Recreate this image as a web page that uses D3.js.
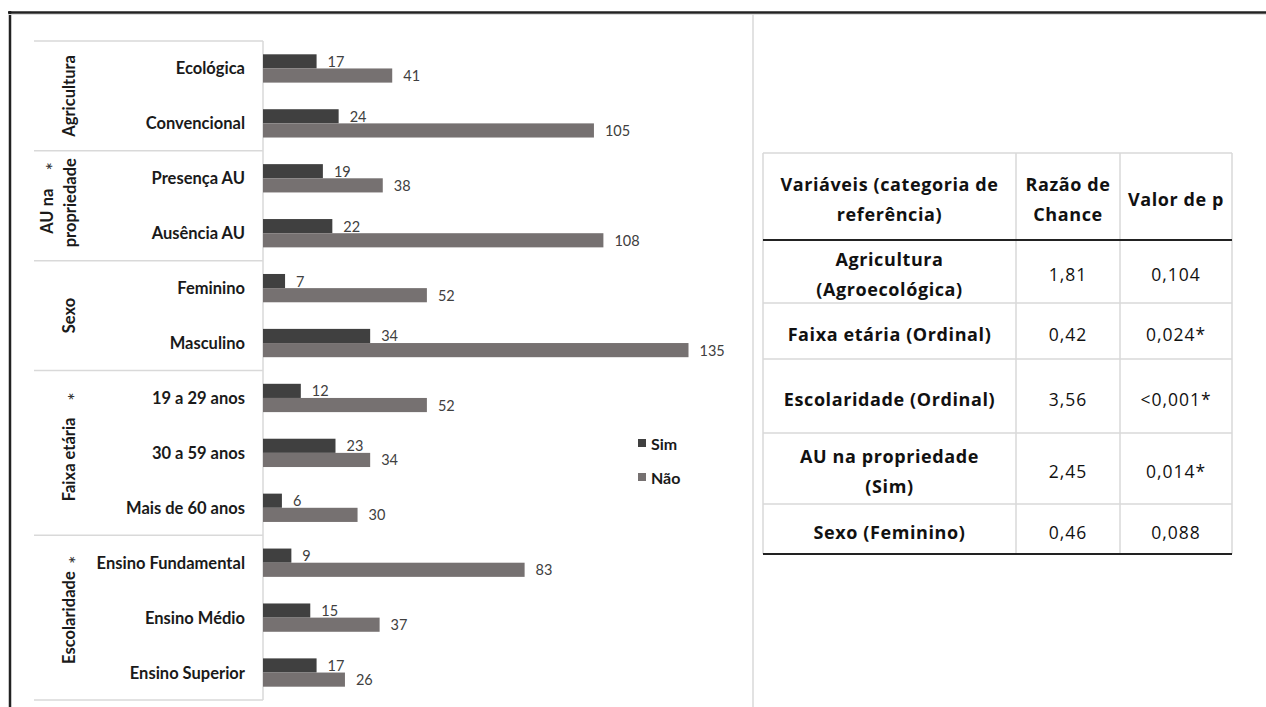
<!DOCTYPE html>
<html><head><meta charset="utf-8">
<script src="https://cdn.jsdelivr.net/npm/d3@7"></script>
<style>
html,body{margin:0;padding:0;background:#fff;}
svg{display:block;}
text{font-family:Lato,"Open Sans",sans-serif;}
</style></head>
<body>
<svg id="chart" width="1266" height="707"></svg>
<script>
// ---- data ----
const categories = ["Ecológica","Convencional","Presença AU","Ausência AU","Feminino","Masculino",
  "19 a 29 anos","30 a 59 anos","Mais de 60 anos","Ensino Fundamental","Ensino Médio","Ensino Superior"];
const simValues = [17,24,19,22,7,34,12,23,6,9,15,17];
const naoValues = [41,105,38,108,52,135,52,34,30,83,37,26];
const seriesNames = ["Sim","Não"];
const groupLines = [["Agricultura"],["AU na","propriedade"],["Sexo"],["Faixa etária"],["Escolaridade"]];
const groupSignificant = [false,true,false,true,true];
const groupSizes = [2,2,2,3,3];

const tableHeader = [["Variáveis (categoria de","referência)"],["Razão de","Chance"],["Valor de p"]];
const tableVars = [["Agricultura","(Agroecológica)"],["Faixa etária (Ordinal)"],["Escolaridade (Ordinal)"],["AU na propriedade","(Sim)"],["Sexo (Feminino)"]];
const tableOR = ["1,81","0,42","3,56","2,45","0,46"];
const tableP = ["0,104","0,024*","<0,001*","0,014*","0,088"];

// ---- layout constants (screen offsets, not data) ----
const groupLayout = [
  {lines:[[0,0]]},
  {lines:[[-22,5.5],[1,-3]], star:[-17,-39.5]},
  {lines:[[0,0]]},
  {lines:[[0,6.5]], star:[5,-56.5]},
  {lines:[[0,0]], star:[6,-58]}
];

const svg = d3.select("#chart");
const colors = {Sim:"#404040", "Não":"#767171"};
const grid = "#d9d9d9";

// page frame
svg.append("line").attr("x1",8).attr("x2",1266).attr("y1",12.5).attr("y2",12.5).attr("stroke","#222").attr("stroke-width",2.5);
svg.append("line").attr("x1",10).attr("x2",10).attr("y1",11).attr("y2",707).attr("stroke","#222").attr("stroke-width",2.5);
svg.append("line").attr("x1",8).attr("x2",1266).attr("y1",14.5).attr("y2",14.5).attr("stroke","#ddd").attr("stroke-width",1);
svg.append("line").attr("x1",753).attr("x2",753).attr("y1",14).attr("y2",707).attr("stroke",grid).attr("stroke-width",1.5);

const x = d3.scaleLinear().domain([0,135]).range([263,688.5]);
const y = d3.scaleBand().domain(categories).range([41,700]).padding(0);
const ySub = d3.scaleBand().domain(seriesNames).range([0,y.bandwidth()]).paddingInner(0).paddingOuter(0.94);

// category table lines
const boundaries = [0];
groupSizes.forEach((s,i)=>boundaries.push(boundaries[i]+s));
boundaries.forEach(b=>{
  const yy = b < categories.length ? y(categories[b]) : y(categories[categories.length-1])+y.bandwidth();
  svg.append("line").attr("x1",34).attr("x2",263).attr("y1",yy).attr("y2",yy).attr("stroke",grid).attr("stroke-width",1.5);
});
svg.append("line").attr("x1",263).attr("x2",263).attr("y1",41).attr("y2",700).attr("stroke",grid).attr("stroke-width",1.5);

// bars
const rows = categories.map((c,i)=>({cat:c, Sim:simValues[i], "Não":naoValues[i]}));
const gRow = svg.selectAll("g.row").data(rows).join("g").attr("class","row")
  .attr("transform",d=>`translate(0,${y(d.cat)})`);
seriesNames.forEach(s=>{
  gRow.append("rect").attr("x",x(0)).attr("y",ySub(s)).attr("height",ySub.bandwidth())
    .attr("width",d=>x(d[s])-x(0)).attr("fill",colors[s]);
  gRow.append("text").attr("x",d=>x(d[s])+11).attr("y",ySub(s)+ySub.bandwidth()/2)
    .attr("dominant-baseline","central").attr("font-size",14.5).attr("fill","#404040")
    .text(d=>d[s]);
});

// category labels
svg.selectAll("text.cat").data(categories).join("text").attr("class","cat")
  .attr("x",245).attr("y",d=>y(d)+y.bandwidth()/2).attr("text-anchor","end")
  .attr("dominant-baseline","central").attr("font-size",16.5).attr("font-weight","bold").attr("fill","#1a1a1a")
  .text(d=>d);

// group labels
groupLines.forEach((lines,gi)=>{
  const y0 = y(categories[boundaries[gi]]);
  const y1 = y(categories[boundaries[gi+1]-1]) + y.bandwidth();
  const cy = (y0+y1)/2;
  const L = groupLayout[gi];
  lines.forEach((ln,li)=>{
    const [dx,dy] = L.lines[li];
    svg.append("text").attr("transform",`translate(${69+dx},${cy+dy}) rotate(-90)`)
      .attr("text-anchor","middle").attr("dominant-baseline","central")
      .attr("font-size",16.5).attr("font-weight","bold").attr("fill","#1a1a1a").text(ln);
  });
  if (groupSignificant[gi]) {
    const [sx,sy] = L.star;
    svg.append("text").attr("transform",`translate(${69+sx},${cy+sy}) rotate(-90)`)
      .attr("text-anchor","middle").attr("dominant-baseline","central")
      .attr("font-size",20).attr("fill","#333").text("*");
  }
});

// legend
const legend = svg.append("g");
seriesNames.forEach((s,i)=>{
  const ly = 443 + i*34;
  legend.append("rect").attr("x",638).attr("y",ly-4).attr("width",8).attr("height",8).attr("fill",colors[s]);
  legend.append("text").attr("x",651).attr("y",ly).attr("dominant-baseline","central")
    .attr("font-size",16).attr("font-weight","bold").attr("fill","#1a1a1a").text(s);
});

// table
const colX = [763,1016,1120,1232];
const rowY = [153,240,303,359,433,504,554];
const tbl = svg.append("g");
colX.forEach(cx=>tbl.append("line").attr("x1",cx).attr("x2",cx).attr("y1",rowY[0]).attr("y2",rowY[rowY.length-1]).attr("stroke",grid).attr("stroke-width",1.5));
rowY.forEach((ry,i)=>{
  const dark = (i===1 || i===rowY.length-1);
  tbl.append("line").attr("x1",colX[0]).attr("x2",colX[3]).attr("y1",ry).attr("y2",ry)
    .attr("stroke",dark?"#222":grid).attr("stroke-width",dark?2:1.5);
});
function cellText(lines, col, r0, r1, bold){
  const cx = (colX[col]+colX[col+1])/2;
  const cy = (r0+r1)/2 + 2.5;
  const lh = 30;
  lines.forEach((ln,i)=>{
    tbl.append("text").attr("x",cx).attr("y",cy + (i-(lines.length-1)/2)*lh)
      .attr("text-anchor","middle").attr("dominant-baseline","central")
      .style("font-family","'Open Sans',sans-serif")
      .attr("font-size",bold?18:17.5).attr("letter-spacing",bold?0.6:1)
      .attr("font-weight",bold?"bold":"normal").attr("fill","#111").text(ln);
  });
}
tableHeader.forEach((h,c)=>cellText(h,c,rowY[0],rowY[1],true));
tableVars.forEach((v,r)=>{
  cellText(v,0,rowY[r+1],rowY[r+2],true);
  cellText([tableOR[r]],1,rowY[r+1],rowY[r+2],false);
  cellText([tableP[r]],2,rowY[r+1],rowY[r+2],false);
});
</script>
</body></html>
